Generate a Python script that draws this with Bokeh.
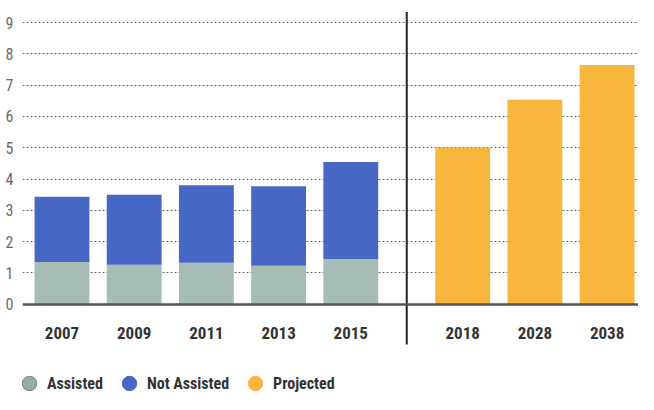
from bokeh.plotting import figure
from bokeh.models import ColumnDataSource, FixedTicker, Legend, LegendItem, Range1d
from bokeh.embed import file_html
from bokeh.resources import INLINE

# ---- data ----
actual_years = ["2007", "2009", "2011", "2013", "2015"]
assisted = [1.35, 1.26, 1.32, 1.23, 1.44]
not_assisted = [2.08, 2.24, 2.48, 2.54, 3.10]
projected_years = ["2018", "2028", "2038"]
projected = [5.0, 6.53, 7.64]
y_ticks = [0, 1, 2, 3, 4, 5, 6, 7, 8, 9]

# ---- layout constants ----
GAP = 0.55
BAR_W = 0.76
FONT = "Roboto Condensed"
C_ASSISTED = "#a6bdb7"
C_NOT = "#4668c4"
C_PROJ = "#f6b73c"
NAN = float("nan")

actual_x = list(range(len(actual_years)))
proj_x = [len(actual_years) + GAP + i for i in range(len(projected_years))]
div_x = (actual_x[-1] + proj_x[0]) / 2

src_actual = ColumnDataSource(dict(x=actual_x, assisted=assisted, not_assisted=not_assisted))
src_proj = ColumnDataSource(dict(x=proj_x, top=projected))

p = figure(width=638, height=394, x_range=Range1d(-0.547, 7.985), y_range=Range1d(-2.886, 9.64),
           output_backend="svg", toolbar_location=None,
           min_border_left=22, min_border_right=0, min_border_top=2, min_border_bottom=0)
p.outline_line_color = None
p.background_fill_color = "white"

# grid
p.xgrid.visible = False
p.ygrid.ticker = FixedTicker(ticks=y_ticks[1:])
p.ygrid.grid_line_color = "#666666"
p.ygrid.grid_line_dash = "2 2"
p.ygrid.grid_line_width = 1.1

# y axis
yax = p.yaxis[0]
yax.ticker = FixedTicker(ticks=y_ticks)
yax.axis_line_color = None
yax.major_tick_line_color = None
yax.minor_tick_line_color = None
yax.major_label_standoff = 3
yax.major_label_text_font = FONT
yax.major_label_text_font_size = "16px"
yax.major_label_text_color = "#6a6a6a"

# x axis drawn at y = 0
xax = p.xaxis[0]
xax.fixed_location = 0
xax.ticker = FixedTicker(ticks=actual_x + proj_x)
xax.major_label_overrides = {x: lab for x, lab in zip(actual_x + proj_x, actual_years + projected_years)}
xax.axis_line_color = "#555555"
xax.axis_line_width = 2.5
xax.major_tick_line_color = None
xax.minor_tick_line_color = None
xax.major_label_standoff = 17
xax.major_label_text_font = FONT
xax.major_label_text_font_style = "bold"
xax.major_label_text_font_size = "17px"
xax.major_label_text_color = "#333333"

# bars
p.vbar_stack(["assisted", "not_assisted"], x="x", width=BAR_W, source=src_actual,
             color=[C_ASSISTED, C_NOT], line_color=None)
p.vbar(x="x", top="top", width=BAR_W, source=src_proj, color=C_PROJ, line_color=None)

# divider between actual and projected
p.segment(x0=[div_x], y0=[-1.29], x1=[div_x], y1=[y_ticks[-1] + 0.34], line_color="#222222", line_width=2)

# legend markers (renderers with no visible point; used only for the legend glyphs)
r_a = p.scatter(x=[NAN], y=[NAN], marker="circle", size=14, fill_color="#98aba6", line_color="#6f807b")
r_n = p.scatter(x=[NAN], y=[NAN], marker="circle", size=14, fill_color=C_NOT, line_color=C_NOT)
r_p = p.scatter(x=[NAN], y=[NAN], marker="circle", size=14, fill_color=C_PROJ, line_color=C_PROJ)

legend = Legend(items=[LegendItem(label="Assisted", renderers=[r_a]),
                       LegendItem(label="Not Assisted", renderers=[r_n]),
                       LegendItem(label="Projected", renderers=[r_p])],
                orientation="horizontal", location=(-11, -7),
                glyph_width=36, glyph_height=36, label_standoff=-5, spacing=8,
                padding=0, margin=0, border_line_alpha=0, background_fill_alpha=0,
                label_text_font=FONT, label_text_font_style="bold",
                label_text_font_size="16px", label_text_color="#333333")
p.add_layout(legend)

open("out.html", "w").write(file_html(p, INLINE))
